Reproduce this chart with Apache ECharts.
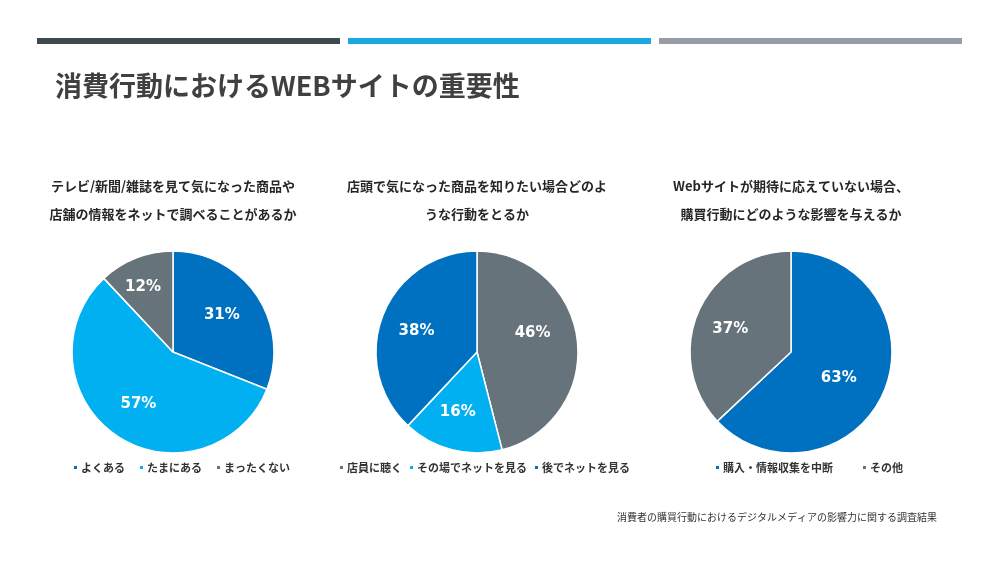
<!DOCTYPE html>
<html>
<head>
<meta charset="utf-8">
<script src="https://cdn.jsdelivr.net/npm/echarts@6/dist/echarts.min.js"></script>
<style>
html,body{margin:0;padding:0;background:#fff;}
#c{width:1000px;height:563px;}
</style>
</head>
<body>
<div id="c"></div>
<script>
// ---- data ----
const pageTitle = '消費行動におけるWEBサイトの重要性';
const footnote = '消費者の購買行動におけるデジタルメディアの影響力に関する調査結果';

const q1Title = 'テレビ/新聞/雑誌を見て気になった商品や\n店舗の情報をネットで調べることがあるか';
const q1Names = ['よくある', 'たまにある', 'まったくない'];
const q1Values = [31, 57, 12];

const q2Title = '店頭で気になった商品を知りたい場合どのよ\nうな行動をとるか';
const q2Names = ['店員に聴く', 'その場でネットを見る', '後でネットを見る'];
const q2Values = [46, 16, 38];

const q3Title = 'Webサイトが期待に応えていない場合、\n購買行動にどのような影響を与えるか';
const q3Names = ['購入・情報収集を中断', 'その他'];
const q3Values = [63, 37];

// ---- styles ----
const DARK = '#0070c0', LIGHT = '#00b0f0', GRAY = '#67737a';
const colorMap = {
  'よくある': DARK, 'たまにある': LIGHT, 'まったくない': GRAY,
  '店員に聴く': GRAY, 'その場でネットを見る': LIGHT, '後でネットを見る': DARK,
  '購入・情報収集を中断': DARK, 'その他': GRAY
};
// small label nudges (best-fit placement of the original)
const labelNudge = {
  'よくある': [-5, 0], 'たまにある': [2, -2], 'まったくない': [-6, -4],
  '店員に聴く': [-9, -11], 'その場でネットを見る': [-3, -3], '後でネットを見る': [0, 3],
  '購入・情報収集を中断': [-12, 0], 'その他': [-1, 3]
};
const JP = '"Noto Sans CJK JP", "Noto Sans", sans-serif';

const pies = [
  {cx: 173, title: q1Title, names: q1Names, values: q1Values, legendLeft: 67, gap: 13},
  {cx: 477, title: q2Title, names: q2Names, values: q2Values, legendLeft: 333, gap: 6},
  {cx: 791, title: q3Title, names: q3Names, values: q3Values, legendLeft: 709, gap: 28}
];
const cy = 352, R = 101;

const chart = echarts.init(document.getElementById('c'));

const series = [];
const legends = [];
const graphics = [
  {type: 'rect', shape: {x: 37, y: 38, width: 303, height: 6}, style: {fill: '#3d4a50'}},
  {type: 'rect', shape: {x: 348, y: 38, width: 303, height: 6}, style: {fill: '#1ba8e0'}},
  {type: 'rect', shape: {x: 659, y: 38, width: 303, height: 6}, style: {fill: '#989ca6'}},
  {type: 'text', style: {text: pageTitle, x: 55, y: 86, textVerticalAlign: 'middle',
    font: 'bold 27px ' + JP, fill: '#404040'}},
  {type: 'text', style: {text: footnote, x: 937, y: 517, textAlign: 'right', textVerticalAlign: 'middle',
    font: '10px ' + JP, fill: '#333333'}}
];

pies.forEach((p, i) => {
  const data = p.names.map((n, k) => ({name: n, value: p.values[k], itemStyle: {color: colorMap[n]}}));
  series.push({
    type: 'pie', name: 'pie' + i, center: [p.cx, cy], radius: [0, R],
    startAngle: 90, clockwise: true, silent: true,
    itemStyle: {borderColor: '#ffffff', borderWidth: 1.5},
    label: {show: false}, labelLine: {show: false},
    emphasis: {disabled: true},
    data: data
  });
  series.push({
    type: 'pie', name: 'lbl' + i, center: [p.cx, cy], radius: [0, R * 1.23],
    startAngle: 90, clockwise: true, silent: true,
    itemStyle: {color: 'rgba(0,0,0,0)', borderWidth: 0},
    label: {show: true, position: 'inside', formatter: '{c}%', color: '#ffffff',
      fontFamily: '"DejaVu Sans", Verdana, sans-serif', fontWeight: 'bold', fontSize: 15},
    labelLine: {show: false}, emphasis: {disabled: true},
    labelLayout: function (params) {
      const n = labelNudge[p.names[params.dataIndex]] || [0, 0];
      return {dx: n[0], dy: n[1]};
    },
    data: p.names.map((n, k) => ({name: n, value: p.values[k]}))
  });
  legends.push({
    data: p.names, left: p.legendLeft, top: 457, orient: 'horizontal',
    icon: 'rect', itemWidth: 5, itemHeight: 5, itemGap: p.gap,
    selectedMode: false,
    textStyle: {fontFamily: JP, fontSize: 11, fontWeight: 'bold', color: '#333333', padding: [0, 0, 0, -2]}
  });
  graphics.push({type: 'text', style: {text: p.title, x: p.cx, y: 200, textAlign: 'center',
    textVerticalAlign: 'middle', font: 'bold 13px ' + JP, fill: '#262626', lineHeight: 28}});
});

chart.setOption({
  animation: false,
  backgroundColor: '#ffffff',
  legend: legends,
  graphic: graphics,
  series: series
});
</script>
</body>
</html>
